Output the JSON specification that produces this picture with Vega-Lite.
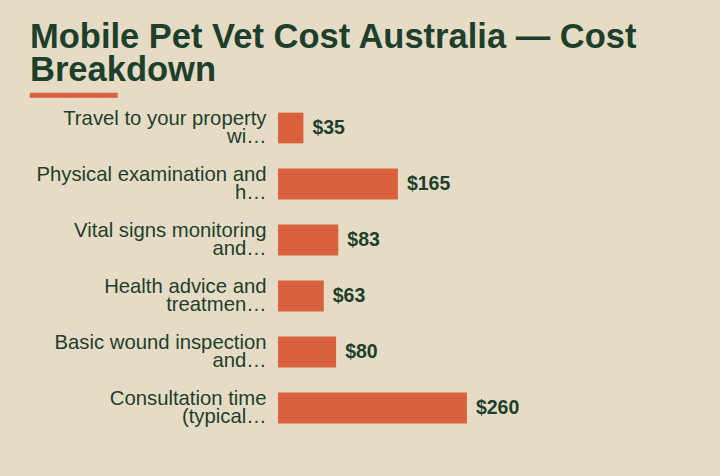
{
  "$schema": "https://vega.github.io/schema/vega-lite/v6.json",
  "autosize": "none",
  "width": 218,
  "height": 336,
  "padding": {"left": 278, "top": 100, "right": 224, "bottom": 40},
  "background": "#e6dcc6",
  "title": {
    "text": ["Mobile Pet Vet Cost Australia — Cost", "Breakdown"],
    "subtitle": "━━━━━",
    "anchor": "start",
    "frame": "group",
    "dx": -248,
    "font": "Liberation Sans",
    "fontSize": 34.5,
    "fontWeight": "bold",
    "lineHeight": 33,
    "color": "#1d3f2c",
    "subtitleFont": "DejaVu Sans",
    "subtitleFontSize": 29,
    "subtitleColor": "#d9613d",
    "subtitlePadding": -6,
    "offset": -12
  },
  "data": {
    "values": [
      {"item": "Travel to your property\nwi…", "cost": 35},
      {"item": "Physical examination and\nh…", "cost": 165},
      {"item": "Vital signs monitoring\nand…", "cost": 83},
      {"item": "Health advice and\ntreatmen…", "cost": 63},
      {"item": "Basic wound inspection\nand…", "cost": 80},
      {"item": "Consultation time\n(typical…", "cost": 260}
    ]
  },
  "encoding": {
    "y": {
      "field": "item",
      "type": "nominal",
      "sort": null,
      "scale": {"paddingInner": 0.45, "paddingOuter": 0.225},
      "axis": {
        "title": null,
        "domain": false,
        "ticks": false,
        "labelPadding": 12,
        "labelOffset": -9,
        "labelFont": "Liberation Sans",
        "labelFontSize": 20.3,
        "labelLineHeight": 18,
        "labelColor": "#1d3f2c",
        "labelLimit": 300,
        "labelExpr": "split(datum.label, '\\n')"
      }
    },
    "x": {
      "field": "cost",
      "type": "quantitative",
      "scale": {"domain": [0, 300]},
      "axis": null
    }
  },
  "layer": [
    {"mark": {"type": "bar", "color": "#d9613d"}},
    {
      "mark": {
        "type": "text",
        "align": "left",
        "baseline": "middle",
        "dx": 9,
        "font": "Liberation Sans",
        "fontSize": 19.5,
        "fontWeight": "bold",
        "color": "#1d3f2c"
      },
      "encoding": {"text": {"field": "cost", "type": "quantitative", "format": "$.0f"}}
    }
  ],
  "config": {"view": {"stroke": null}}
}
